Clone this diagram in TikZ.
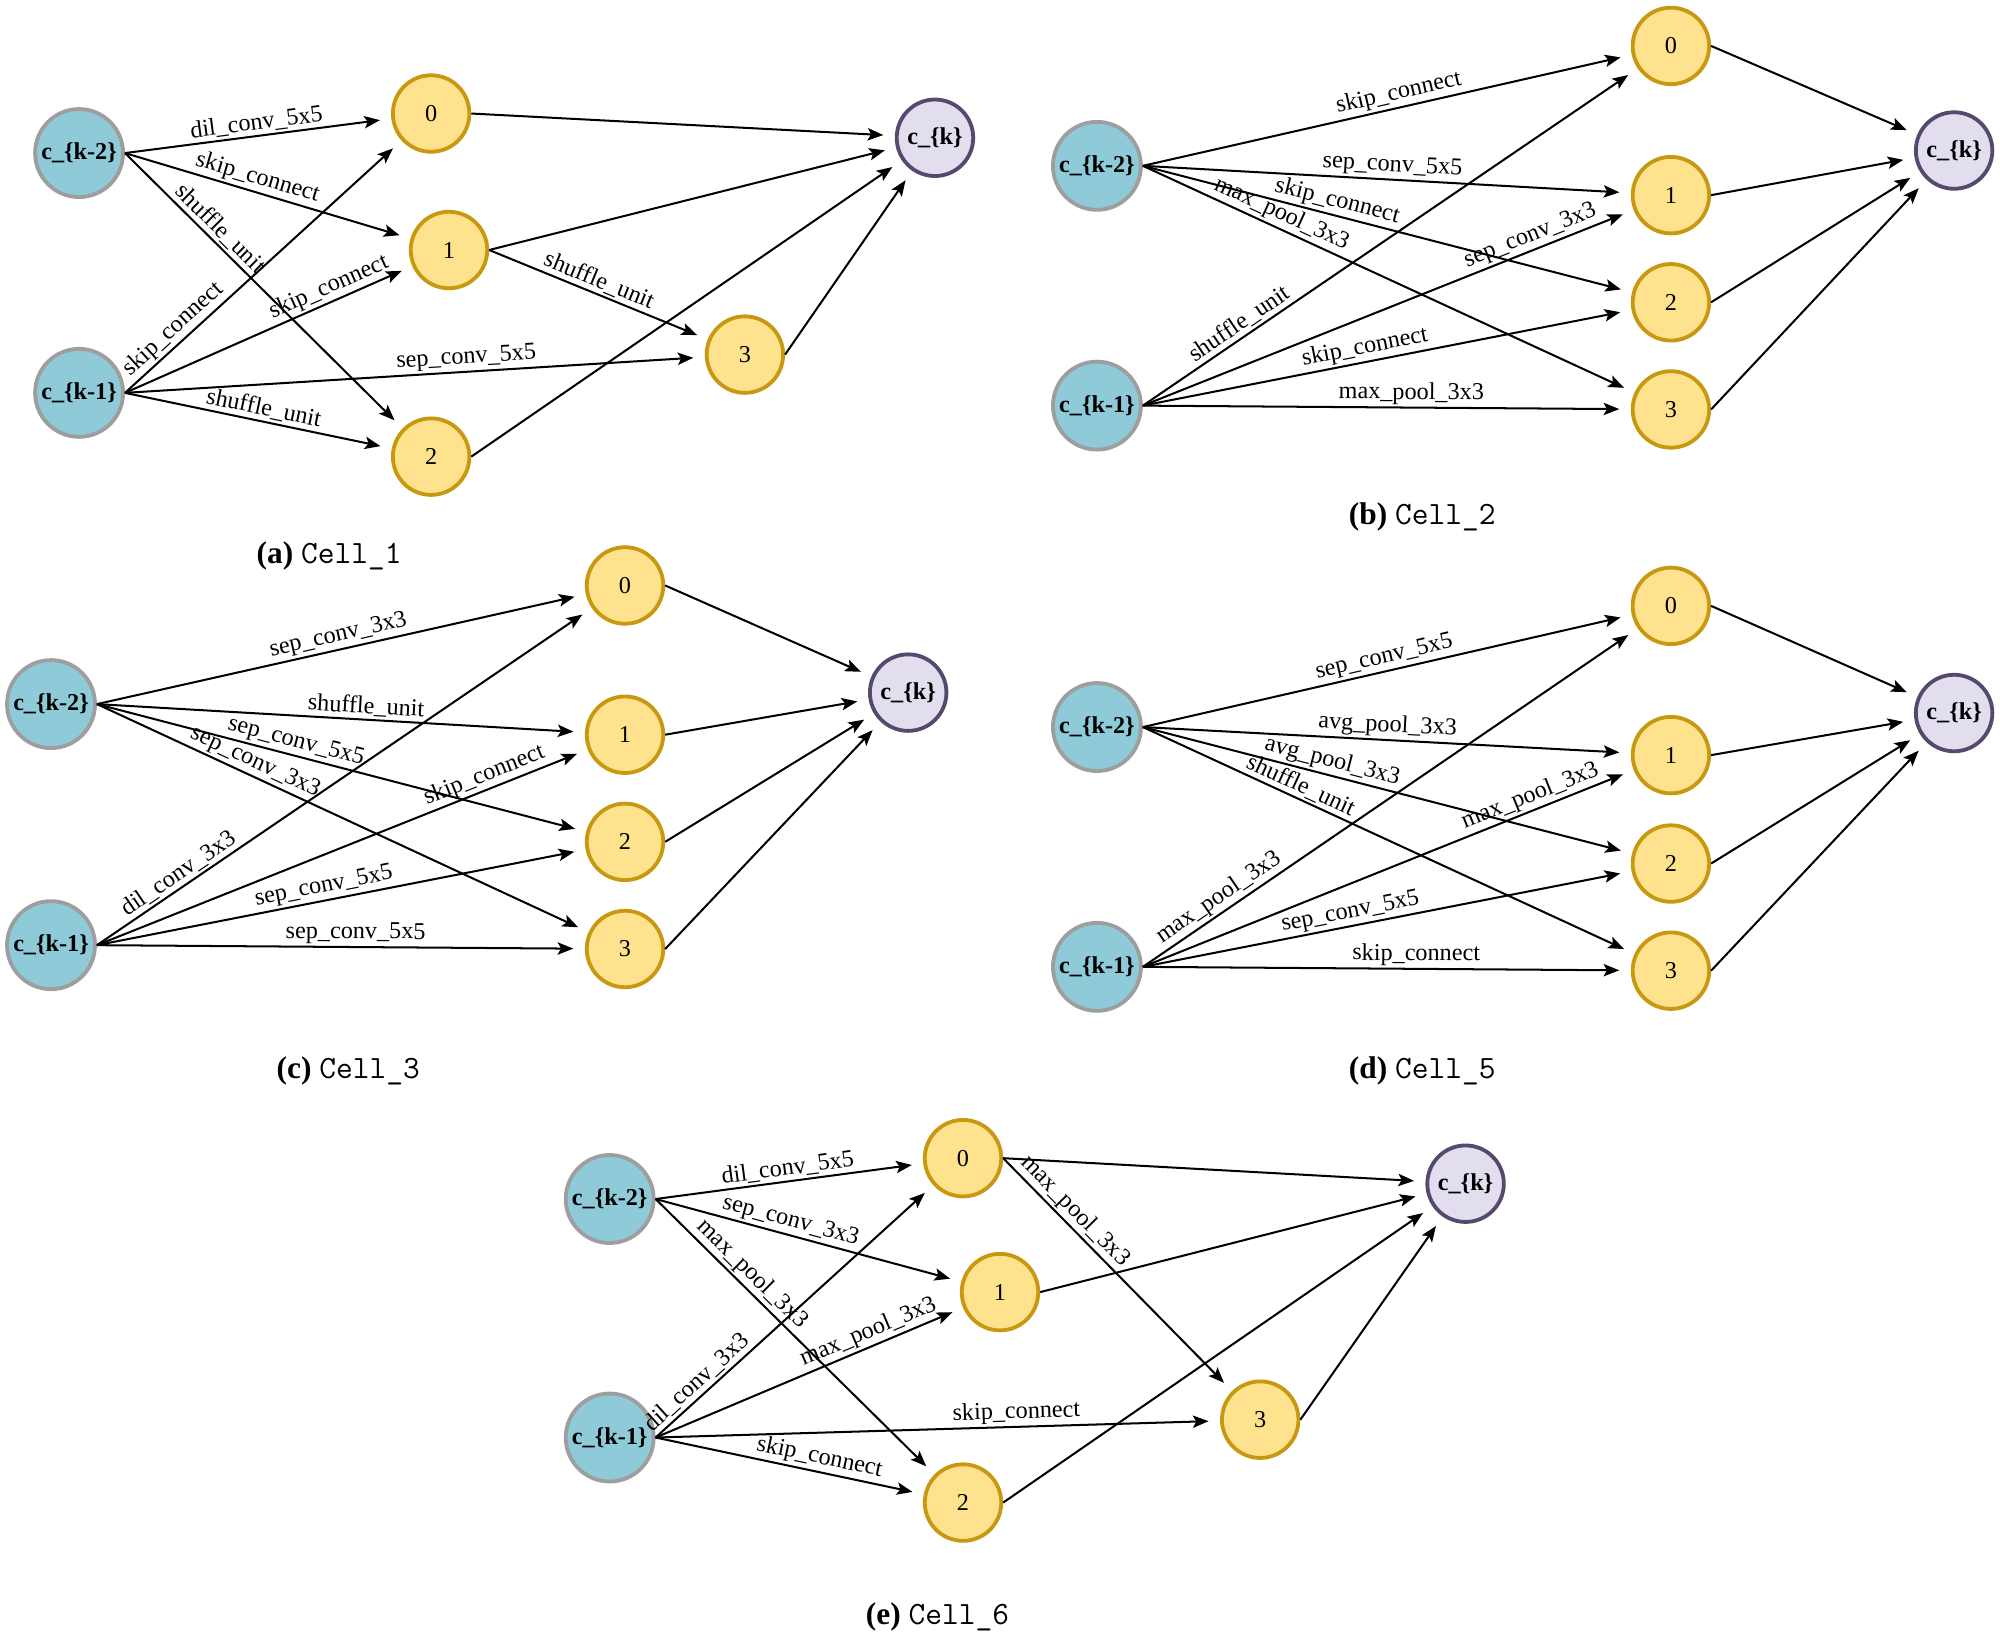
\documentclass[tikz,border=0pt]{standalone}
\usepackage{fontspec}
\setmainfont{Liberation Serif}
\usepackage{tikz}
\usetikzlibrary{arrows.meta}
\usepackage{xcolor}
\definecolor{InBlue}{RGB}{142,202,216}
\definecolor{InGray}{RGB}{158,158,158}
\definecolor{OpYellow}{RGB}{255,226,142}
\definecolor{OpGold}{RGB}{199,152,16}
\definecolor{OutLilac}{RGB}{226,222,238}
\definecolor{OutPurple}{RGB}{85,74,110}
\newcommand{\lblfont}{\fontsize{10.8}{12}\selectfont}
\newcommand{\cellname}[1]{{\fontsize{14.5}{16}\selectfont\ttfamily #1}}
\tikzset{
  innode/.style={circle, draw=InGray, fill=InBlue, line width=1.7pt, minimum size=1.38cm, inner sep=0pt, font=\lblfont\bfseries},
  opnode/.style={circle, draw=OpGold, fill=OpYellow, line width=1.7pt, minimum size=1.2cm, inner sep=0pt, font=\lblfont},
  outnode/.style={circle, draw=OutPurple, fill=OutLilac, line width=1.7pt, minimum size=1.2cm, inner sep=0pt, font=\lblfont\bfseries},
  conn/.style={-{Stealth[length=7pt,width=5.5pt,inset=1.5pt]}, line width=0.9pt, shorten >=0.18cm},
  op/.style={sloped, above, inner sep=1pt, font=\lblfont},
  captxt/.style={inner sep=0pt, font=\fontsize{14}{16}\selectfont}
}

\begin{document}
\begin{tikzpicture}[x=0.02cm,y=-0.02cm]
\useasboundingbox (0,0) rectangle (1568,1286);

\node[innode] (ak2) at (62,120) {c\_\{k-2\}};
\node[innode] (ak1) at (62,308) {c\_\{k-1\}};
\node[opnode] (a0) at (338,89) {0};
\node[opnode] (a1) at (352,196) {1};
\node[opnode] (a2) at (338,358) {2};
\node[opnode] (a3) at (584,278) {3};
\node[outnode] (ak) at (733,108) {c\_\{k\}};
\draw[conn] (ak2.east) -- (a0) node[op,pos=.5] {dil\_conv\_5x5};
\draw[conn] (ak2.east) -- (a1) node[op,pos=.45] {skip\_connect};
\draw[conn] (ak2.east) -- (a2) node[op,pos=.31] {shuffle\_unit};
\draw[conn] (ak1.east) -- (a0) node[op,pos=.21] {skip\_connect};
\draw[conn] (ak1.east) -- (a1) node[op,pos=.73] {skip\_connect};
\draw[conn] (ak1.east) -- (a3) node[op,pos=.59] {sep\_conv\_5x5};
\draw[conn] (ak1.east) -- (a2) node[op,pos=.51] {shuffle\_unit};
\draw[conn] (a1.east) -- (a3) node[op,pos=.48] {shuffle\_unit};
\draw[conn] (a0.east) -- (ak);
\draw[conn] (a1.east) -- (ak);
\draw[conn] (a2.east) -- (ak);
\draw[conn] (a3.east) -- (ak);
\node[captxt] (capa) at (258,436) {\textbf{(a)} \cellname{Cell\_1}};

\node[innode] (bk2) at (860,130) {c\_\{k-2\}};
\node[innode] (bk1) at (860,318) {c\_\{k-1\}};
\node[opnode] (b0) at (1310,36) {0};
\node[opnode] (b1) at (1310,153) {1};
\node[opnode] (b2) at (1310,237) {2};
\node[opnode] (b3) at (1310,321) {3};
\node[outnode] (bk) at (1532,118) {c\_\{k\}};
\draw[conn] (bk2.east) -- (b0) node[op,pos=.53] {skip\_connect};
\draw[conn] (bk2.east) -- (b1) node[op,pos=.51] {sep\_conv\_5x5};
\draw[conn] (bk2.east) -- (b2) node[op,pos=.39] {skip\_connect};
\draw[conn] (bk2.east) -- (b3) node[op,pos=.27] {max\_pool\_3x3};
\draw[conn] (bk1.east) -- (b0) node[op,pos=.21] {shuffle\_unit};
\draw[conn] (bk1.east) -- (b1) node[op,pos=.8] {sep\_conv\_3x3};
\draw[conn] (bk1.east) -- (b2) node[op,pos=.46] {skip\_connect};
\draw[conn] (bk1.east) -- (b3) node[op,pos=.55] {max\_pool\_3x3};
\draw[conn] (b0.east) -- (bk);
\draw[conn] (b1.east) -- (bk);
\draw[conn] (b2.east) -- (bk);
\draw[conn] (b3.east) -- (bk);
\node[captxt] (capb) at (1115,405) {\textbf{(b)} \cellname{Cell\_2}};

\node[innode] (ck2) at (40,552) {c\_\{k-2\}};
\node[innode] (ck1) at (40,741) {c\_\{k-1\}};
\node[opnode] (c0) at (490,459) {0};
\node[opnode] (c1) at (490,576) {1};
\node[opnode] (c2) at (490,660) {2};
\node[opnode] (c3) at (490,744) {3};
\node[outnode] (ck) at (712,543) {c\_\{k\}};
\draw[conn] (ck2.east) -- (c0) node[op,pos=.5] {sep\_conv\_3x3};
\draw[conn] (ck2.east) -- (c1) node[op,pos=.55] {shuffle\_unit};
\draw[conn] (ck2.east) -- (c2) node[op,pos=.4] {sep\_conv\_5x5};
\draw[conn] (ck2.east) -- (c3) node[op,pos=.31] {sep\_conv\_3x3};
\draw[conn] (ck1.east) -- (c0) node[op,pos=.18] {dil\_conv\_3x3};
\draw[conn] (ck1.east) -- (c1) node[op,pos=.8] {skip\_connect};
\draw[conn] (ck1.east) -- (c2) node[op,pos=.47] {sep\_conv\_5x5};
\draw[conn] (ck1.east) -- (c3) node[op,pos=.53] {sep\_conv\_5x5};
\draw[conn] (c0.east) -- (ck);
\draw[conn] (c1.east) -- (ck);
\draw[conn] (c2.east) -- (ck);
\draw[conn] (c3.east) -- (ck);
\node[captxt] (capc) at (273,840) {\textbf{(c)} \cellname{Cell\_3}};

\node[innode] (dk2) at (860,570) {c\_\{k-2\}};
\node[innode] (dk1) at (860,758) {c\_\{k-1\}};
\node[opnode] (d0) at (1310,475) {0};
\node[opnode] (d1) at (1310,592) {1};
\node[opnode] (d2) at (1310,677) {2};
\node[opnode] (d3) at (1310,761) {3};
\node[outnode] (dk) at (1532,559) {c\_\{k\}};
\draw[conn] (dk2.east) -- (d0) node[op,pos=.5] {sep\_conv\_5x5};
\draw[conn] (dk2.east) -- (d1) node[op,pos=.5] {avg\_pool\_3x3};
\draw[conn] (dk2.east) -- (d2) node[op,pos=.38] {avg\_pool\_3x3};
\draw[conn] (dk2.east) -- (d3) node[op,pos=.31] {shuffle\_unit};
\draw[conn] (dk1.east) -- (d0) node[op,pos=.17] {max\_pool\_3x3};
\draw[conn] (dk1.east) -- (d1) node[op,pos=.8] {max\_pool\_3x3};
\draw[conn] (dk1.east) -- (d2) node[op,pos=.43] {sep\_conv\_5x5};
\draw[conn] (dk1.east) -- (d3) node[op,pos=.56] {skip\_connect};
\draw[conn] (d0.east) -- (dk);
\draw[conn] (d1.east) -- (dk);
\draw[conn] (d2.east) -- (dk);
\draw[conn] (d3.east) -- (dk);
\node[captxt] (capd) at (1115,840) {\textbf{(d)} \cellname{Cell\_5}};

\node[innode] (ek2) at (478,940) {c\_\{k-2\}};
\node[innode] (ek1) at (478,1127) {c\_\{k-1\}};
\node[opnode] (e0) at (755,908) {0};
\node[opnode] (e1) at (784,1013) {1};
\node[opnode] (e2) at (755,1178) {2};
\node[opnode] (e3) at (988,1113) {3};
\node[outnode] (ek) at (1149,928) {c\_\{k\}};
\draw[conn] (ek2.east) -- (e0) node[op,pos=.5] {dil\_conv\_5x5};
\draw[conn] (ek2.east) -- (e1) node[op,pos=.43] {sep\_conv\_3x3};
\draw[conn] (ek2.east) -- (e2) node[op,pos=.31] {max\_pool\_3x3};
\draw[conn] (ek1.east) -- (e0) node[op,pos=.18] {dil\_conv\_3x3};
\draw[conn] (ek1.east) -- (e1) node[op,pos=.71] {max\_pool\_3x3};
\draw[conn] (ek1.east) -- (e3) node[op,pos=.64] {skip\_connect};
\draw[conn] (ek1.east) -- (e2) node[op,pos=.6] {skip\_connect};
\draw[conn] (e0.east) -- (e3) node[op,pos=.27] {max\_pool\_3x3};
\draw[conn] (e0.east) -- (ek);
\draw[conn] (e1.east) -- (ek);
\draw[conn] (e2.east) -- (ek);
\draw[conn] (e3.east) -- (ek);
\node[captxt] (cape) at (735,1268) {\textbf{(e)} \cellname{Cell\_6}};
\end{tikzpicture}
\end{document}
